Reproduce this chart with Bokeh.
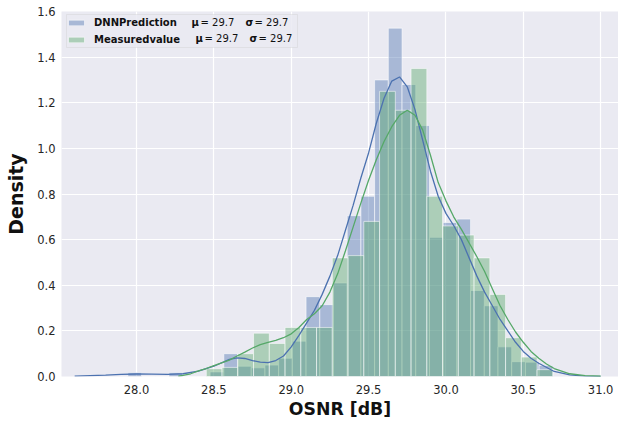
import numpy as np
from bokeh.plotting import figure
from bokeh.models import (FixedTicker, PrintfTickFormatter, Legend, LegendItem,
                          Label, Range1d, BoxAnnotation)
from bokeh.embed import file_html
from bokeh.resources import INLINE

# ---------------- data ----------------
# DNN prediction histogram (density), 31 equal bins
dnn_bin_start = 27.944
dnn_bin_end = 30.691
dnn_density = [0.017, 0.0, 0.0, 0.017, 0.0, 0.0, 0.02, 0.10, 0.045, 0.038,
               0.05, 0.08, 0.155, 0.35, 0.315, 0.41, 0.705, 0.79, 1.30, 1.527,
               1.28, 1.10, 0.61, 0.675, 0.69, 0.377, 0.31, 0.13, 0.065, 0.063,
               0.048]

# Measured value histogram (density), 22 equal bins
meas_bin_start = 28.451
meas_bin_end = 30.691
meas_density = [0.034, 0.04, 0.10, 0.19, 0.145, 0.215, 0.215, 0.215, 0.52, 0.53,
                0.68, 1.25, 1.167, 1.35, 0.79, 0.66, 0.62, 0.52, 0.36, 0.17,
                0.085, 0.03]

# KDE curves
dnn_kde_x = [27.6, 27.7, 27.8, 27.9, 28.0, 28.1, 28.2, 28.3, 28.4, 28.5, 28.6,
             28.65, 28.7, 28.75, 28.8, 28.85, 28.9, 28.95, 29.0, 29.05, 29.1,
             29.15, 29.2, 29.25, 29.3, 29.35, 29.4, 29.45, 29.5, 29.55, 29.6,
             29.65, 29.7, 29.75, 29.8, 29.85, 29.9, 29.95, 30.0, 30.05, 30.1,
             30.15, 30.2, 30.25, 30.3, 30.35, 30.4, 30.45, 30.5, 30.55, 30.6,
             30.7, 30.8, 30.9, 31.0]
dnn_kde_y = [0.002, 0.004, 0.006, 0.009, 0.011, 0.010, 0.009, 0.012, 0.024,
             0.045, 0.075, 0.082, 0.079, 0.070, 0.063, 0.061, 0.070, 0.090,
             0.13, 0.18, 0.235, 0.29, 0.36, 0.44, 0.53, 0.64, 0.75, 0.87,
             0.98, 1.11, 1.22, 1.295, 1.313, 1.27, 1.17, 1.035, 0.90, 0.79,
             0.715, 0.662, 0.60, 0.52, 0.44, 0.37, 0.31, 0.25, 0.20, 0.15,
             0.11, 0.08, 0.058, 0.022, 0.007, 0.002, 0.0005]

meas_kde_x = [28.27, 28.3, 28.35, 28.4, 28.45, 28.5, 28.55, 28.6, 28.65, 28.7,
              28.75, 28.8, 28.85, 28.9, 28.95, 29.0, 29.05, 29.1, 29.15, 29.2,
              29.25, 29.3, 29.35, 29.4, 29.45, 29.5, 29.55, 29.6, 29.65, 29.7,
              29.75, 29.8, 29.85, 29.9, 29.95, 30.0, 30.05, 30.1, 30.15, 30.2,
              30.25, 30.3, 30.35, 30.4, 30.45, 30.5, 30.55, 30.6, 30.65, 30.7,
              30.8, 30.9, 31.0]
meas_kde_y = [0.002, 0.005, 0.012, 0.025, 0.035, 0.048, 0.06, 0.072, 0.09,
              0.107, 0.125, 0.14, 0.15, 0.158, 0.17, 0.187, 0.215, 0.25, 0.275,
              0.31, 0.37, 0.45, 0.55, 0.655, 0.76, 0.86, 0.95, 1.03, 1.095,
              1.145, 1.167, 1.145, 1.08, 0.97, 0.85, 0.77, 0.70, 0.645, 0.585,
              0.525, 0.46, 0.385, 0.31, 0.25, 0.195, 0.15, 0.11, 0.08, 0.055,
              0.035, 0.012, 0.004, 0.001]

series_names = ["DNNPrediction", "Measuredvalue"]
mu_values = [29.7, 29.7]
sigma_values = [29.7, 29.7]

x_ticks = [28.0, 28.5, 29.0, 29.5, 30.0, 30.5, 31.0]
y_ticks = [0.0, 0.2, 0.4, 0.6, 0.8, 1.0, 1.2, 1.4, 1.6]

BLUE = "#4C72B0"
GREEN = "#55A868"
BG = "#EAEAF2"
FONT = "DejaVu Sans"

# ---------------- figure ----------------
W, H = 618, 423
BL, BR, BT, BB = 61, 0, 11, 47
FW = W - BL - BR
FH = H - BT - BB
PX_PER_UNIT = 154.7
X0 = 27.515
X1 = X0 + FW / PX_PER_UNIT
p = figure(width=W, height=H, output_backend="svg", toolbar_location=None,
           x_range=Range1d(X0, X1), y_range=Range1d(0, 1.6),
           min_border_left=BL, min_border_right=BR, min_border_top=BT,
           min_border_bottom=BB)
p.background_fill_color = BG
p.border_fill_color = "white"
p.outline_line_color = None

p.grid.grid_line_color = "white"
p.grid.grid_line_width = 1.2
p.xgrid.ticker = FixedTicker(ticks=x_ticks)
p.ygrid.ticker = FixedTicker(ticks=y_ticks)

for ax in (p.xaxis[0], p.yaxis[0]):
    ax.axis_line_color = None
    ax.major_tick_line_color = None
    ax.minor_tick_line_color = None
    ax.major_tick_out = 0
    ax.major_tick_in = 0
    ax.minor_tick_out = 0
    ax.minor_tick_in = 0
    ax.major_label_text_font = FONT
    ax.major_label_text_font_size = "11.5px"
    ax.major_label_text_color = "#262626"
    ax.axis_label_text_font = FONT
    ax.axis_label_text_font_style = "bold"
    ax.axis_label_text_color = "#111111"
    ax.formatter = PrintfTickFormatter(format="%.1f")

p.xaxis.ticker = FixedTicker(ticks=x_ticks)
p.yaxis.ticker = FixedTicker(ticks=y_ticks)
p.xaxis.axis_label = "OSNR [dB]"
p.yaxis.axis_label = "Density"
p.xaxis.axis_label_text_font_size = "17.3px"
p.yaxis.axis_label_text_font_size = "19px"
p.xaxis.major_label_standoff = 8
p.xaxis.axis_label_standoff = 2
p.yaxis.major_label_standoff = 6
p.yaxis.axis_label_standoff = 7

FRAME_LEFT_PX = BL
FRAME_BOTTOM_PX = BT + FH


def px_to_x(px):
    return X0 + (px - FRAME_LEFT_PX) / PX_PER_UNIT


def py_to_y(py):
    return (FRAME_BOTTOM_PX - py) * 1.6 / FH


# legend frame (drawn under the bars level, above the grid)
p.add_layout(BoxAnnotation(left=px_to_x(66), right=px_to_x(297),
                           top=py_to_y(14), bottom=py_to_y(47),
                           fill_color=BG, fill_alpha=0.85,
                           line_color="#C8C8C8", line_width=1,
                           level="underlay"))

# ---------------- histograms ----------------
dnn_edges = np.linspace(dnn_bin_start, dnn_bin_end, len(dnn_density) + 1)
meas_edges = np.linspace(meas_bin_start, meas_bin_end, len(meas_density) + 1)
dnn_centers = (dnn_edges[:-1] + dnn_edges[1:]) / 2
meas_centers = (meas_edges[:-1] + meas_edges[1:]) / 2

r_dnn = p.vbar(x=dnn_centers, width=dnn_edges[1] - dnn_edges[0], top=dnn_density,
               bottom=0, fill_color=BLUE, fill_alpha=0.42,
               line_color="white", line_alpha=0.55, line_width=1)
r_meas = p.vbar(x=meas_centers, width=meas_edges[1] - meas_edges[0], top=meas_density,
                bottom=0, fill_color=GREEN, fill_alpha=0.42,
                line_color="white", line_alpha=0.55, line_width=1)

# ---------------- KDE lines ----------------
p.line(dnn_kde_x, dnn_kde_y, line_color=BLUE, line_width=1.3)
p.line(meas_kde_x, meas_kde_y, line_color=GREEN, line_width=1.3)

# ---------------- legend ----------------
legend = Legend(items=[LegendItem(label=series_names[0], renderers=[r_dnn]),
                       LegendItem(label=series_names[1], renderers=[r_meas])],
                location="top_left", margin=5, padding=4, spacing=5,
                glyph_width=20, glyph_height=7, label_standoff=8,
                label_height=12, label_width=100,
                label_text_font=FONT, label_text_font_size="10px",
                label_text_font_style="bold", label_text_color="#111111",
                background_fill_alpha=0.0, border_line_color=None)
p.add_layout(legend)

row_y = [21.8, 38.3]
row_shift = [0, 4]
for i in range(2):
    parts = [("μ", 191, "bold"), ("= %.1f" % mu_values[i], 200, "normal"),
             ("σ", 245, "bold"), ("= %.1f" % sigma_values[i], 254, "normal")]
    for txt, px, style in parts:
        p.add_layout(Label(x=px_to_x(px + row_shift[i]), y=py_to_y(row_y[i]),
                           text=txt, text_font=FONT, text_font_size="10px",
                           text_font_style=style, text_color="#111111",
                           text_baseline="middle", text_align="left"))

open("out.html", "w").write(file_html(p, INLINE))
